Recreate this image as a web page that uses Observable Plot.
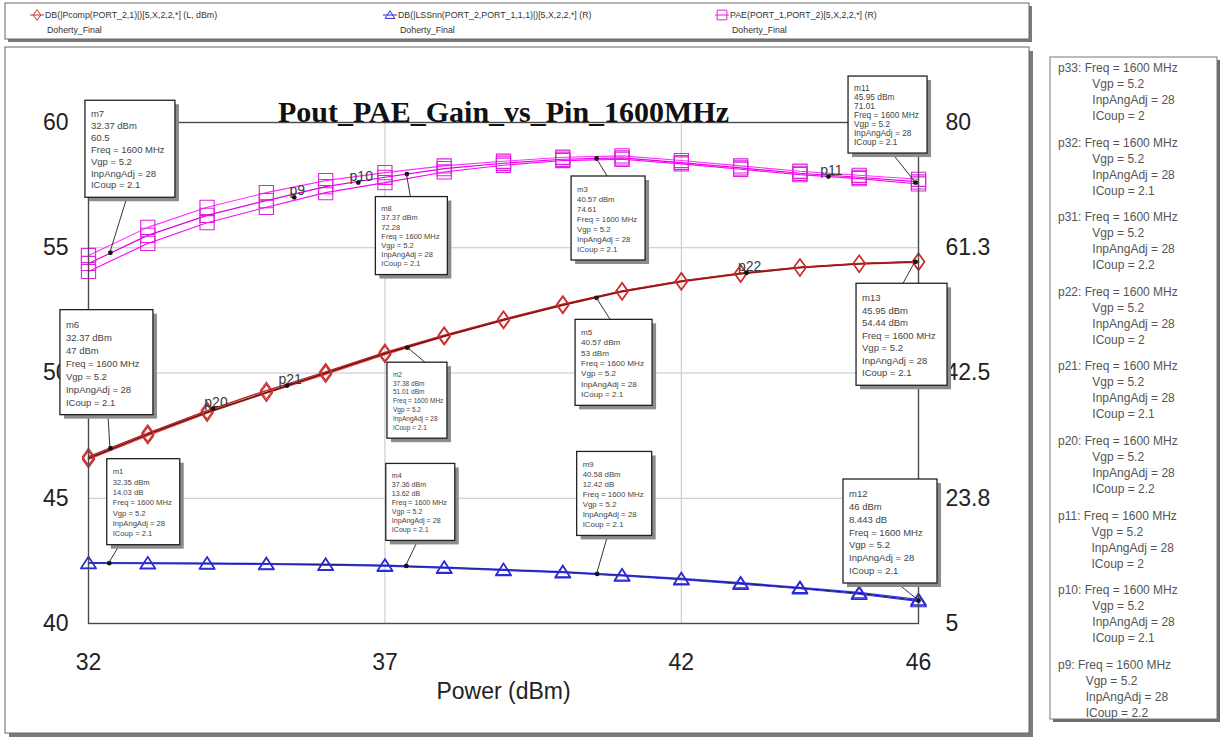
<!DOCTYPE html>
<html><head><meta charset="utf-8">
<script src="https://cdn.jsdelivr.net/npm/d3@7"></script>
<script src="https://cdn.jsdelivr.net/npm/@observablehq/plot@0.6"></script>
<style>
html,body{margin:0;padding:0;background:#fff;}
#chart{position:relative;width:1225px;height:738px;overflow:hidden;}
</style></head><body><div id="chart"></div>
<script>
// ---------------- data ----------------
const powerIn = [32,33,34,35,36,37,38,39,40,41,42,43,44,45,46];
const icoupValues = ["2","2.1","2.2"];
// Pout (left axis, dBm)
const poutICoup2  = [46.55,47.50,48.40,49.20,49.95,50.74,51.45,52.10,52.70,53.24,53.64,53.95,54.20,54.35,54.42];
const poutICoup21 = [46.60,47.55,48.43,49.22,50.00,50.78,51.48,52.12,52.72,53.26,53.66,53.97,54.21,54.36,54.44];
const poutICoup22 = [46.66,47.60,48.50,49.30,50.05,50.82,51.51,52.15,52.75,53.28,53.68,53.99,54.23,54.38,54.46];
// Gain (right axis, dB)
const gainICoup2  = [14.10,14.08,14.05,13.98,13.88,13.75,13.45,13.10,12.78,12.30,11.75,11.12,10.42,9.65,8.60];
const gainICoup21 = [14.05,14.02,13.98,13.90,13.80,13.67,13.35,13.02,12.70,12.20,11.65,11.00,10.30,9.50,8.44];
const gainICoup22 = [14.00,13.97,13.92,13.83,13.72,13.60,13.28,12.95,12.62,12.12,11.57,10.90,10.20,9.38,8.30];
// PAE (right axis, %)
const paeICoup2  = [60.1,64.3,67.3,69.5,71.3,72.5,73.5,74.2,74.8,75.0,74.3,73.5,72.7,72.1,71.5];
const paeICoup21 = [58.9,63.1,66.1,68.3,70.4,71.8,73.1,73.9,74.5,74.7,74.0,73.2,72.4,71.8,71.1];
const paeICoup22 = [57.7,61.9,65.0,67.3,69.5,71.0,72.6,73.6,74.3,74.5,73.8,73.0,72.2,71.6,70.8];

const leftTicks = [40,45,50,55,60];
const rightTickLabels = ["5","23.8","42.5","61.3","80"];
const xTicks = [32,37,42,46];
const chartTitle = "Pout_PAE_Gain_vs_Pin_1600MHz";
const xLabel = "Power (dBm)";

// markers (m#)
const markerNames = ["m7","m8","m3","m11","m6","m2","m5","m13","m1","m4","m9","m12"];
const markerAxis  = ["R","R","R","R","L","L","L","L","R","R","R","R"];
const markerX     = [32.37,37.37,40.57,45.95,32.37,37.38,40.57,45.95,32.35,37.36,40.58,46];
const markerValue = [60.5,72.28,74.61,71.01,47,51.01,53,54.44,14.03,13.62,12.42,8.443];
const markerXText = ["32.37 dBm","37.37 dBm","40.57 dBm","45.95 dBm","32.37 dBm","37.38 dBm","40.57 dBm","45.95 dBm","32.35 dBm","37.36 dBm","40.58 dBm","46 dBm"];
const markerValText = ["60.5","72.28","74.61","71.01","47 dBm","51.01 dBm","53 dBm","54.44 dBm","14.03 dB","13.62 dB","12.42 dB","8.443 dB"];
const markerParams = ["Freq = 1600 MHz","Vgp = 5.2","InpAngAdj = 28","ICoup = 2.1"];

// cursors (p#)
const cursorNames = ["p9","p10","p11","p20","p21","p22"];
const cursorAxis  = ["R","R","R","L","L","L"];
const cursorX     = [35.47,36.55,44.48,34.10,35.35,43.10];
const cursorValue = [68.8,71.0,71.9,48.58,49.5,54.0];

// right info panel
const panelNames = ["p33","p32","p31","p22","p21","p20","p11","p10","p9"];
const panelICoup = ["2","2.1","2.2","2","2.1","2.2","2","2.1","2.2"];

// legend
const legendTexts = ["DB(|Pcomp(PORT_2,1)|)[5,X,2,2,*] (L, dBm)","DB(|LSSnn(PORT_2,PORT_1,1,1)|)[5,X,2,2,*] (R)","PAE(PORT_1,PORT_2)[5,X,2,2,*] (R)"];
const legendSub = "Doherty_Final";

// ---------------- layout / style ----------------
const toLeft = r => 40 + (r - 5) * 20 / 75;     // right axis (5..80) -> left axis (40..60)
const mapAxis = (axis, v) => axis === "R" ? toLeft(v) : v;

const diamondSym = {draw(c, size){ const h = Math.sqrt(size)*0.5; c.moveTo(0,-h); c.lineTo(h*0.72,0); c.lineTo(0,h); c.lineTo(-h*0.72,0); c.closePath(); }};
const triSym = {draw(c, size){ const s = Math.sqrt(size)*0.5; c.moveTo(0,-s*0.85); c.lineTo(s,s*0.7); c.lineTo(-s,s*0.7); c.closePath(); }};
const squareSym = {draw(c, size){ const s = Math.sqrt(size)*0.5; c.rect(-s,-s,2*s,2*s); }};

const seriesDefs = [
  {traces:[poutICoup2,poutICoup21,poutICoup22], axis:"L", lineColors:["#e04848","#6a0c0c","#b42020"], widths:[1.4,1.6,1.3], sym:diamondSym, r:9.5, mk:"#cc3030"},
  {traces:[gainICoup2,gainICoup21,gainICoup22], axis:"R", lineColors:["#4040ff","#141466","#3434d0"], widths:[1.2,1.3,1.2], sym:triSym, r:8.5, mk:"#2a2ad8"},
  {traces:[paeICoup2,paeICoup21,paeICoup22], axis:"R", lineColors:["#ff30ff","#e000e0","#ff00ff"], widths:[1.1,1.2,1.1], sym:squareSym, r:8, mk:"#e020e0"}
];

const marks = [
  Plot.gridY(leftTicks.filter(t => t > 40 && t < 60), {stroke:"#c4c4c4", strokeOpacity:1}),
  Plot.gridX(xTicks.filter(t => t > 32 && t < 46), {stroke:"#c4c4c4", strokeOpacity:1})
];
for (const s of seriesDefs) {
  s.traces.forEach((vals, k) => {
    const rows = powerIn.map((x, i) => ({x, y: mapAxis(s.axis, vals[i]), icoup: icoupValues[k]}));
    marks.push(Plot.line(rows, {x:"x", y:"y", stroke:s.lineColors[k], strokeWidth:s.widths[k]}));
    marks.push(Plot.dot(rows, {x:"x", y:"y", symbol:s.sym, r:s.r, stroke:s.mk, strokeWidth:1.1, fill:"none"}));
  });
}
const markerRows = markerNames.map((n, i) => ({name:n, x:markerX[i], y:mapAxis(markerAxis[i], markerValue[i])}));
const cursorRows = cursorNames.map((n, i) => ({name:n, x:cursorX[i], y:mapAxis(cursorAxis[i], cursorValue[i])}));

marks.push(
  Plot.frame({stroke:"#4a4a4a", strokeWidth:1.4}),
  Plot.axisX({ticks:xTicks, tickSize:0, tickPadding:30, fontSize:23, label:null, tickFormat:d => String(d)}),
  Plot.axisY({anchor:"left", ticks:leftTicks, tickSize:0, tickPadding:20, fontSize:23, label:null}),
  Plot.axisY({anchor:"right", ticks:leftTicks, tickSize:0, tickPadding:27, fontSize:23, label:null, tickFormat:(d) => rightTickLabels[leftTicks.indexOf(d)]}),
  Plot.text([chartTitle], {frameAnchor:"top", dy:-22, fontSize:30, fontWeight:"bold", fontFamily:"Liberation Serif, Times New Roman, serif", fill:"#111"}),
  Plot.text([xLabel], {frameAnchor:"bottom", dy:75, fontSize:23, fill:"#222"}),
  Plot.dot(cursorRows, {x:"x", y:"y", r:2.4, fill:"#111"}),
  Plot.text(cursorRows, {x:"x", y:"y", text:"name", lineAnchor:"bottom", dy:-2, dx:3, fontSize:14, fill:"#3a3a3a"}),
  Plot.dot(markerRows, {x:"x", y:"y", r:2.4, fill:"#111"})
);

const plot = Plot.plot({
  width:1225, height:738,
  marginLeft:88, marginRight:307, marginTop:122, marginBottom:115,
  x:{domain:[32,46]},
  y:{domain:[40,60]},
  style:{fontFamily:"Liberation Sans, Arial, sans-serif", color:"#222", background:"transparent", overflow:"visible"},
  marks
});
document.getElementById("chart").appendChild(plot);

// ---------------- annotations through the plot's own scales ----------------
const svg = d3.select(plot);
const xS = plot.scale("x"), yS = plot.scale("y");

// panel frames (behind)
const back = svg.insert("g", ":first-child");
back.append("rect").attr("x",0).attr("y",0).attr("width",1225).attr("height",738).attr("fill","#fff");
function shadowBox(g, x, y, w, h, off, shade, stroke) {
  g.append("rect").attr("x",x+off).attr("y",y+off).attr("width",w).attr("height",h).attr("fill",shade);
  g.append("rect").attr("x",x).attr("y",y).attr("width",w).attr("height",h).attr("fill","#fff").attr("stroke",stroke).attr("stroke-width",1);
}
shadowBox(back, 5, 47, 1024, 686, 4, "#7a7a7a", "#666");
const front = svg.append("g").attr("text-anchor","start");

// legend box
const lg = front.append("g").attr("font-family","Liberation Sans, Arial, sans-serif").attr("font-size",8.8).attr("fill","#333").attr("text-anchor","start");
shadowBox(lg, 5, 3, 1024, 36, 3, "#7a7a7a", "#666");
const legendX = [37, 390, 722];
const legendColors = ["#cc3030","#2a2ad8","#e020e0"];
const legendSyms = [diamondSym, triSym, squareSym];
const legendR = [6, 5.5, 5.5];
legendTexts.forEach((t, i) => {
  const cx = legendX[i];
  lg.append("line").attr("x1",cx-7).attr("x2",cx+7).attr("y1",15).attr("y2",15).attr("stroke",legendColors[i]).attr("stroke-width",1);
  lg.append("path").attr("transform",`translate(${cx},15)`).attr("d", d3.symbol(legendSyms[i], Math.PI*legendR[i]*legendR[i])()).attr("fill","none").attr("stroke",legendColors[i]).attr("stroke-width",1);
  lg.append("text").attr("x",cx+8).attr("y",18).text(t);
  lg.append("text").attr("x",cx+10).attr("y",33).text(legendSub);
});

// right info panel
const rp = front.append("g").attr("font-family","Liberation Sans, Arial, sans-serif").attr("font-size",12).attr("fill","#555").attr("text-anchor","start");
shadowBox(rp, 1050, 57, 167, 662, 3, "#6e6e6e", "#777");
panelNames.forEach((n, i) => {
  const y0 = 72 + i*74.6;
  rp.append("text").attr("x",1058).attr("y",y0).text(`${n}: Freq = 1600 MHz`);
  const pre = rp.append("text").attr("x",0).attr("y",-50).text(`${n}:`);
  const pw = pre.node().getComputedTextLength(); pre.remove();
  const sx = 1058 + pw + 11;
  ["Vgp = 5.2","InpAngAdj = 28",`ICoup = ${panelICoup[i]}`].forEach((s, j) => {
    rp.append("text").attr("x",sx).attr("y",y0 + 16*(j+1)).text(s);
  });
});

// marker boxes: offsets relative to each marker point [dx, dy, w, h, leaderX]
const markerBoxLayout = {
  m7:[-25,-152,90,97,17], m8:[-31,23,72,78,4], m3:[-25,18,74,84,11], m11:[-67,-106,79,77,-23],
  m6:[-50,-138,93,105,-2], m2:[-20,15,60,76,18], m5:[-21,22,77,86,14], m13:[-59,22,91,102,-12],
  m1:[-2,-104,73,86,11], m4:[-20,-102,69,77,12], m9:[-20,-122,75,84,11], m12:[-75,-121,94,104,-21]
};
const ann = front.append("g").attr("font-family","Liberation Sans, Arial, sans-serif").attr("text-anchor","start");
markerRows.forEach((m, i) => {
  const [dx, dy, w, h, ax] = markerBoxLayout[m.name];
  const px = xS.apply(m.x), py = yS.apply(m.y);
  const bx = px + dx, by = py + dy;
  const ay = by > py ? by : by + h;
  ann.append("line").attr("x1",px).attr("y1",py).attr("x2",px+ax).attr("y2",ay).attr("stroke","#333").attr("stroke-width",1);
  ann.append("rect").attr("x",bx+4).attr("y",by+4).attr("width",w).attr("height",h).attr("fill","#8c8c8c");
  ann.append("rect").attr("x",bx).attr("y",by).attr("width",w).attr("height",h).attr("fill","#fff").attr("stroke","#222").attr("stroke-width",1.3);
  const lines = [m.name, markerXText[i], markerValText[i], ...markerParams];
  const fs = Math.max(6.5, Math.min(9.5, (w - 12) / 8));
  const sp = (h - 14) / 7;
  lines.forEach((s, j) => {
    ann.append("text").attr("x",bx+6).attr("y",by + 7 + (j + 0.85)*sp).attr("font-size",fs).attr("fill","#444").text(s);
  });
});
</script></body></html>
